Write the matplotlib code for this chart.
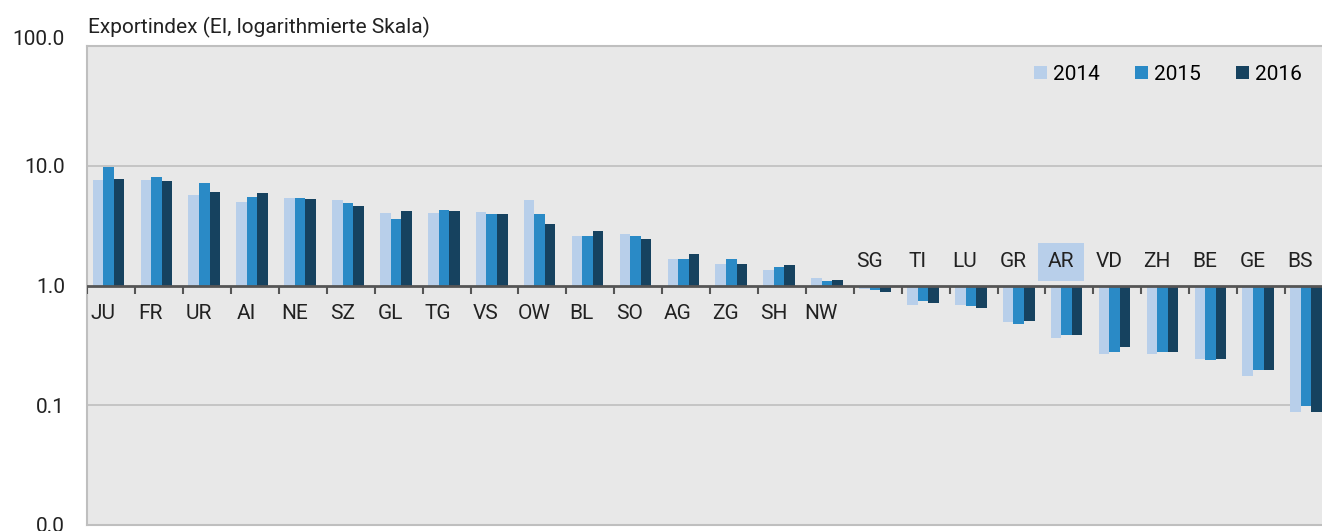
import numpy as np
import matplotlib
matplotlib.use("Agg")
import matplotlib.pyplot as plt
import matplotlib.transforms as mtrans
from matplotlib.patches import Patch

plt.rcParams['font.family'] = ['Roboto', 'DejaVu Sans']

cantons = ["JU", "FR", "UR", "AI", "NE", "SZ", "GL", "TG", "VS", "OW", "BL", "SO", "AG",
           "ZG", "SH", "NW", "SG", "TI", "LU", "GR", "AR", "VD", "ZH", "BE", "GE", "BS"]
ei_2014 = [7.63, 7.67, 5.71, 4.98, 5.38, 5.14, 4.05, 4.05, 4.13, 5.14, 2.58, 2.68, 1.67,
           1.52, 1.35, 1.16, 0.94, 0.69, 0.69, 0.50, 0.366, 0.266, 0.266, 0.246, 0.177, 0.088]
ei_2015 = [9.86, 8.13, 7.24, 5.52, 5.42, 4.92, 3.61, 4.29, 3.97, 4.00, 2.58, 2.60, 1.67,
           1.67, 1.42, 1.09, 0.92, 0.74, 0.68, 0.48, 0.385, 0.277, 0.277, 0.237, 0.198, 0.099]
ei_2016 = [7.78, 7.52, 6.00, 5.93, 5.24, 4.58, 4.19, 4.19, 4.00, 3.27, 2.86, 2.46, 1.82,
           1.52, 1.49, 1.11, 0.89, 0.71, 0.65, 0.51, 0.39, 0.305, 0.277, 0.246, 0.198, 0.088]
years = ["2014", "2015", "2016"]
colors = ["#b8cfea", "#2a8ac6", "#16425f"]
highlight = "AR"

yticks = [0.01, 0.1, 1, 10, 100]
ytick_labels = ["0.0", "0.1", "1.0", "10.0", "100.0"]

fig = plt.figure(figsize=(13.22, 5.31), dpi=100)
ax = fig.add_axes([0.066, 0.0113, 0.934, 0.9017])
ax.set_facecolor("#e8e8e8")

x = np.arange(len(cantons))
w = 0.22
for k, vals in enumerate([ei_2014, ei_2015, ei_2016]):
    v = np.array(vals)
    ax.bar(x + (k - 1) * w, v - 1, bottom=1, width=w, color=colors[k],
           edgecolor="none", zorder=3)

ax.set_yscale("log")
ax.set_ylim(0.01, 100)
ax.set_xlim(-0.443, 25.33)

ax.yaxis.set_major_locator(matplotlib.ticker.FixedLocator(yticks))
ax.yaxis.set_minor_locator(matplotlib.ticker.NullLocator())
ax.set_yticklabels(ytick_labels)
ax.tick_params(axis="y", length=0, pad=16, labelsize=15, labelcolor="#222222")
ax.set_xticks([])

# top label sits a bit higher than its gridline in the original
lbl = ax.get_yticklabels()[-1]
lbl.set_transform(lbl.get_transform() + mtrans.ScaledTranslation(0, 0.09, fig.dpi_scale_trans))

for gy in [0.1, 10]:
    ax.axhline(gy, color="#bfbfbf", lw=1.2, zorder=1)

for s in ["left", "top", "bottom"]:
    ax.spines[s].set_color("#bfbfbf")
    ax.spines[s].set_linewidth(1.5)
ax.spines["right"].set_visible(False)

# baseline at 1 with small ticks between the cantons
ax.axhline(1, color="#555555", lw=2, zorder=4)
bounds = np.arange(len(cantons) + 1) - 0.443
ax.vlines(bounds, 10 ** (-8 / 119), 1, color="#555555", lw=1.5, zorder=4)

for i, c in enumerate(cantons):
    above = ei_2015[i] < 1
    off = 17 if above else -20
    kw = {}
    if c == highlight:
        kw["bbox"] = dict(boxstyle="square,pad=0.45", fc="#b8cfea", ec="none")
    ax.annotate(c, (i - 0.12, 1), xytext=(0, off), textcoords="offset points",
                ha="center", va="center", fontsize=15, color="#222222", zorder=5, **kw)

fig.text(0.0665, 0.948, "Exportindex (EI, logarithmierte Skala)", fontsize=15,
         ha="left", va="center", color="#222222")

handles = [Patch(facecolor=c, edgecolor="none") for c in colors]
ax.legend(handles, years, loc="upper right", ncol=3, frameon=False, fontsize=15,
          handlelength=0.6, handleheight=0.6, handletextpad=0.3, columnspacing=1.7,
          bbox_to_anchor=(0.999, 1.0))

fig.savefig("out.png", dpi=100)
